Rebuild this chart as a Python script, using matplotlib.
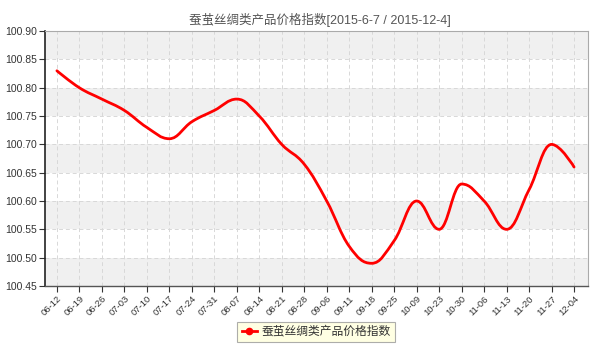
import matplotlib
matplotlib.use("Agg")
import matplotlib.pyplot as plt
from matplotlib.path import Path
from matplotlib.patches import PathPatch
from matplotlib.lines import Line2D

plt.rcParams['font.family'] = ['Liberation Sans', 'Noto Sans CJK SC', 'DejaVu Sans']

categories = ["06-12", "06-19", "06-26", "07-03", "07-10", "07-17", "07-24", "07-31",
              "08-07", "08-14", "08-21", "08-28", "09-06", "09-11", "09-18", "09-25",
              "10-09", "10-23", "10-30", "11-06", "11-13", "11-20", "11-27", "12-04"]
values = [100.83, 100.80, 100.78, 100.76, 100.73, 100.71, 100.74, 100.76,
          100.78, 100.75, 100.70, 100.665, 100.60, 100.52, 100.49, 100.53,
          100.60, 100.55, 100.63, 100.60, 100.55, 100.62, 100.70, 100.66]
yticks = [100.45, 100.50, 100.55, 100.60, 100.65, 100.70, 100.75, 100.80, 100.85, 100.90]
title = "蚕茧丝绸类产品价格指数[2015-6-7 / 2015-12-4]"
series_name = "蚕茧丝绸类产品价格指数"


def spline_path(xs, ys, smoothing=1.5):
    n = len(xs)
    lc = [None] * n
    rc = [None] * n
    for i in range(n):
        x, y = xs[i], ys[i]
        if 0 < i < n - 1:
            lx, ly = xs[i - 1], ys[i - 1]
            nx, ny = xs[i + 1], ys[i + 1]
            d = smoothing + 1
            lcx = (smoothing * x + lx) / d
            lcy = (smoothing * y + ly) / d
            rcx = (smoothing * x + nx) / d
            rcy = (smoothing * y + ny) / d
            corr = ((rcy - lcy) * (rcx - x)) / (rcx - lcx) + y - rcy
            lcy += corr
            rcy += corr
            if lcy > ly and lcy > y:
                lcy = max(ly, y); rcy = 2 * y - lcy
            elif lcy < ly and lcy < y:
                lcy = min(ly, y); rcy = 2 * y - lcy
            if rcy > ny and rcy > y:
                rcy = max(ny, y); lcy = 2 * y - rcy
            elif rcy < ny and rcy < y:
                rcy = min(ny, y); lcy = 2 * y - rcy
            lc[i] = (lcx, lcy)
            rc[i] = (rcx, rcy)
        else:
            lc[i] = (x, y)
            rc[i] = (x, y)
    verts = [(xs[0], ys[0])]
    codes = [Path.MOVETO]
    for i in range(1, n):
        verts += [rc[i - 1], lc[i], (xs[i], ys[i])]
        codes += [Path.CURVE4] * 3
    return Path(verts, codes)


fig = plt.figure(figsize=(6, 3.5), dpi=100)
ax = fig.add_axes([0.075, 0.183, 0.905, 0.728])

xs = list(range(len(categories)))
ax.set_xlim(-0.53, len(categories) - 1 + 0.62)
ax.set_ylim(yticks[0], yticks[-1])

# alternating bands
for i in range(len(yticks) - 1):
    if (len(yticks) - 2 - i) % 2 == 0:
        ax.axhspan(yticks[i], yticks[i + 1], color='#f0f0f0', zorder=0, lw=0)

ax.set_yticks(yticks)
ax.set_yticklabels([f"{v:.2f}" for v in yticks], fontsize=7.5, color='#333333')
ax.set_xticks(xs)
ax.set_xticklabels(categories, rotation=45, ha='right', rotation_mode='anchor',
                   fontsize=6.8, color='#333333')
ax.grid(True, color='#d8d8d8', linestyle=(0, (4, 3)), lw=0.7, zorder=1)
ax.tick_params(axis='both', length=4, width=0.8, color='#333333')
ax.tick_params(axis='y', pad=2)
ax.tick_params(axis='x', pad=2)

for s in ['top', 'right']:
    ax.spines[s].set_color('#aaaaaa')
    ax.spines[s].set_linewidth(0.8)
ax.spines['left'].set_color('#222222')
ax.spines['left'].set_linewidth(1.2)
ax.spines['bottom'].set_color('#555555')
ax.spines['bottom'].set_linewidth(1.0)

path = spline_path(xs, values)
ax.add_patch(PathPatch(path, facecolor='none', edgecolor='#ff0000', lw=2.0,
                       zorder=3, capstyle='round', joinstyle='round'))

fig.text(0.533, 0.943, title, ha='center', va='center', fontsize=9, color='#555555')

handle = Line2D([0], [0], color='#ff0000', lw=2.0, marker='o', markersize=4.5)
leg = fig.legend([handle], [series_name], loc='center', bbox_to_anchor=(0.527, 0.052),
                 fontsize=8.5, frameon=True, fancybox=False, handlelength=1.3,
                 handletextpad=0.4, borderpad=0.35)
leg.get_frame().set_facecolor('#ffffdd')
leg.get_frame().set_edgecolor('#999999')
leg.get_frame().set_linewidth(0.8)
for t in leg.get_texts():
    t.set_color('#333333')

fig.savefig("out.png", dpi=100)
